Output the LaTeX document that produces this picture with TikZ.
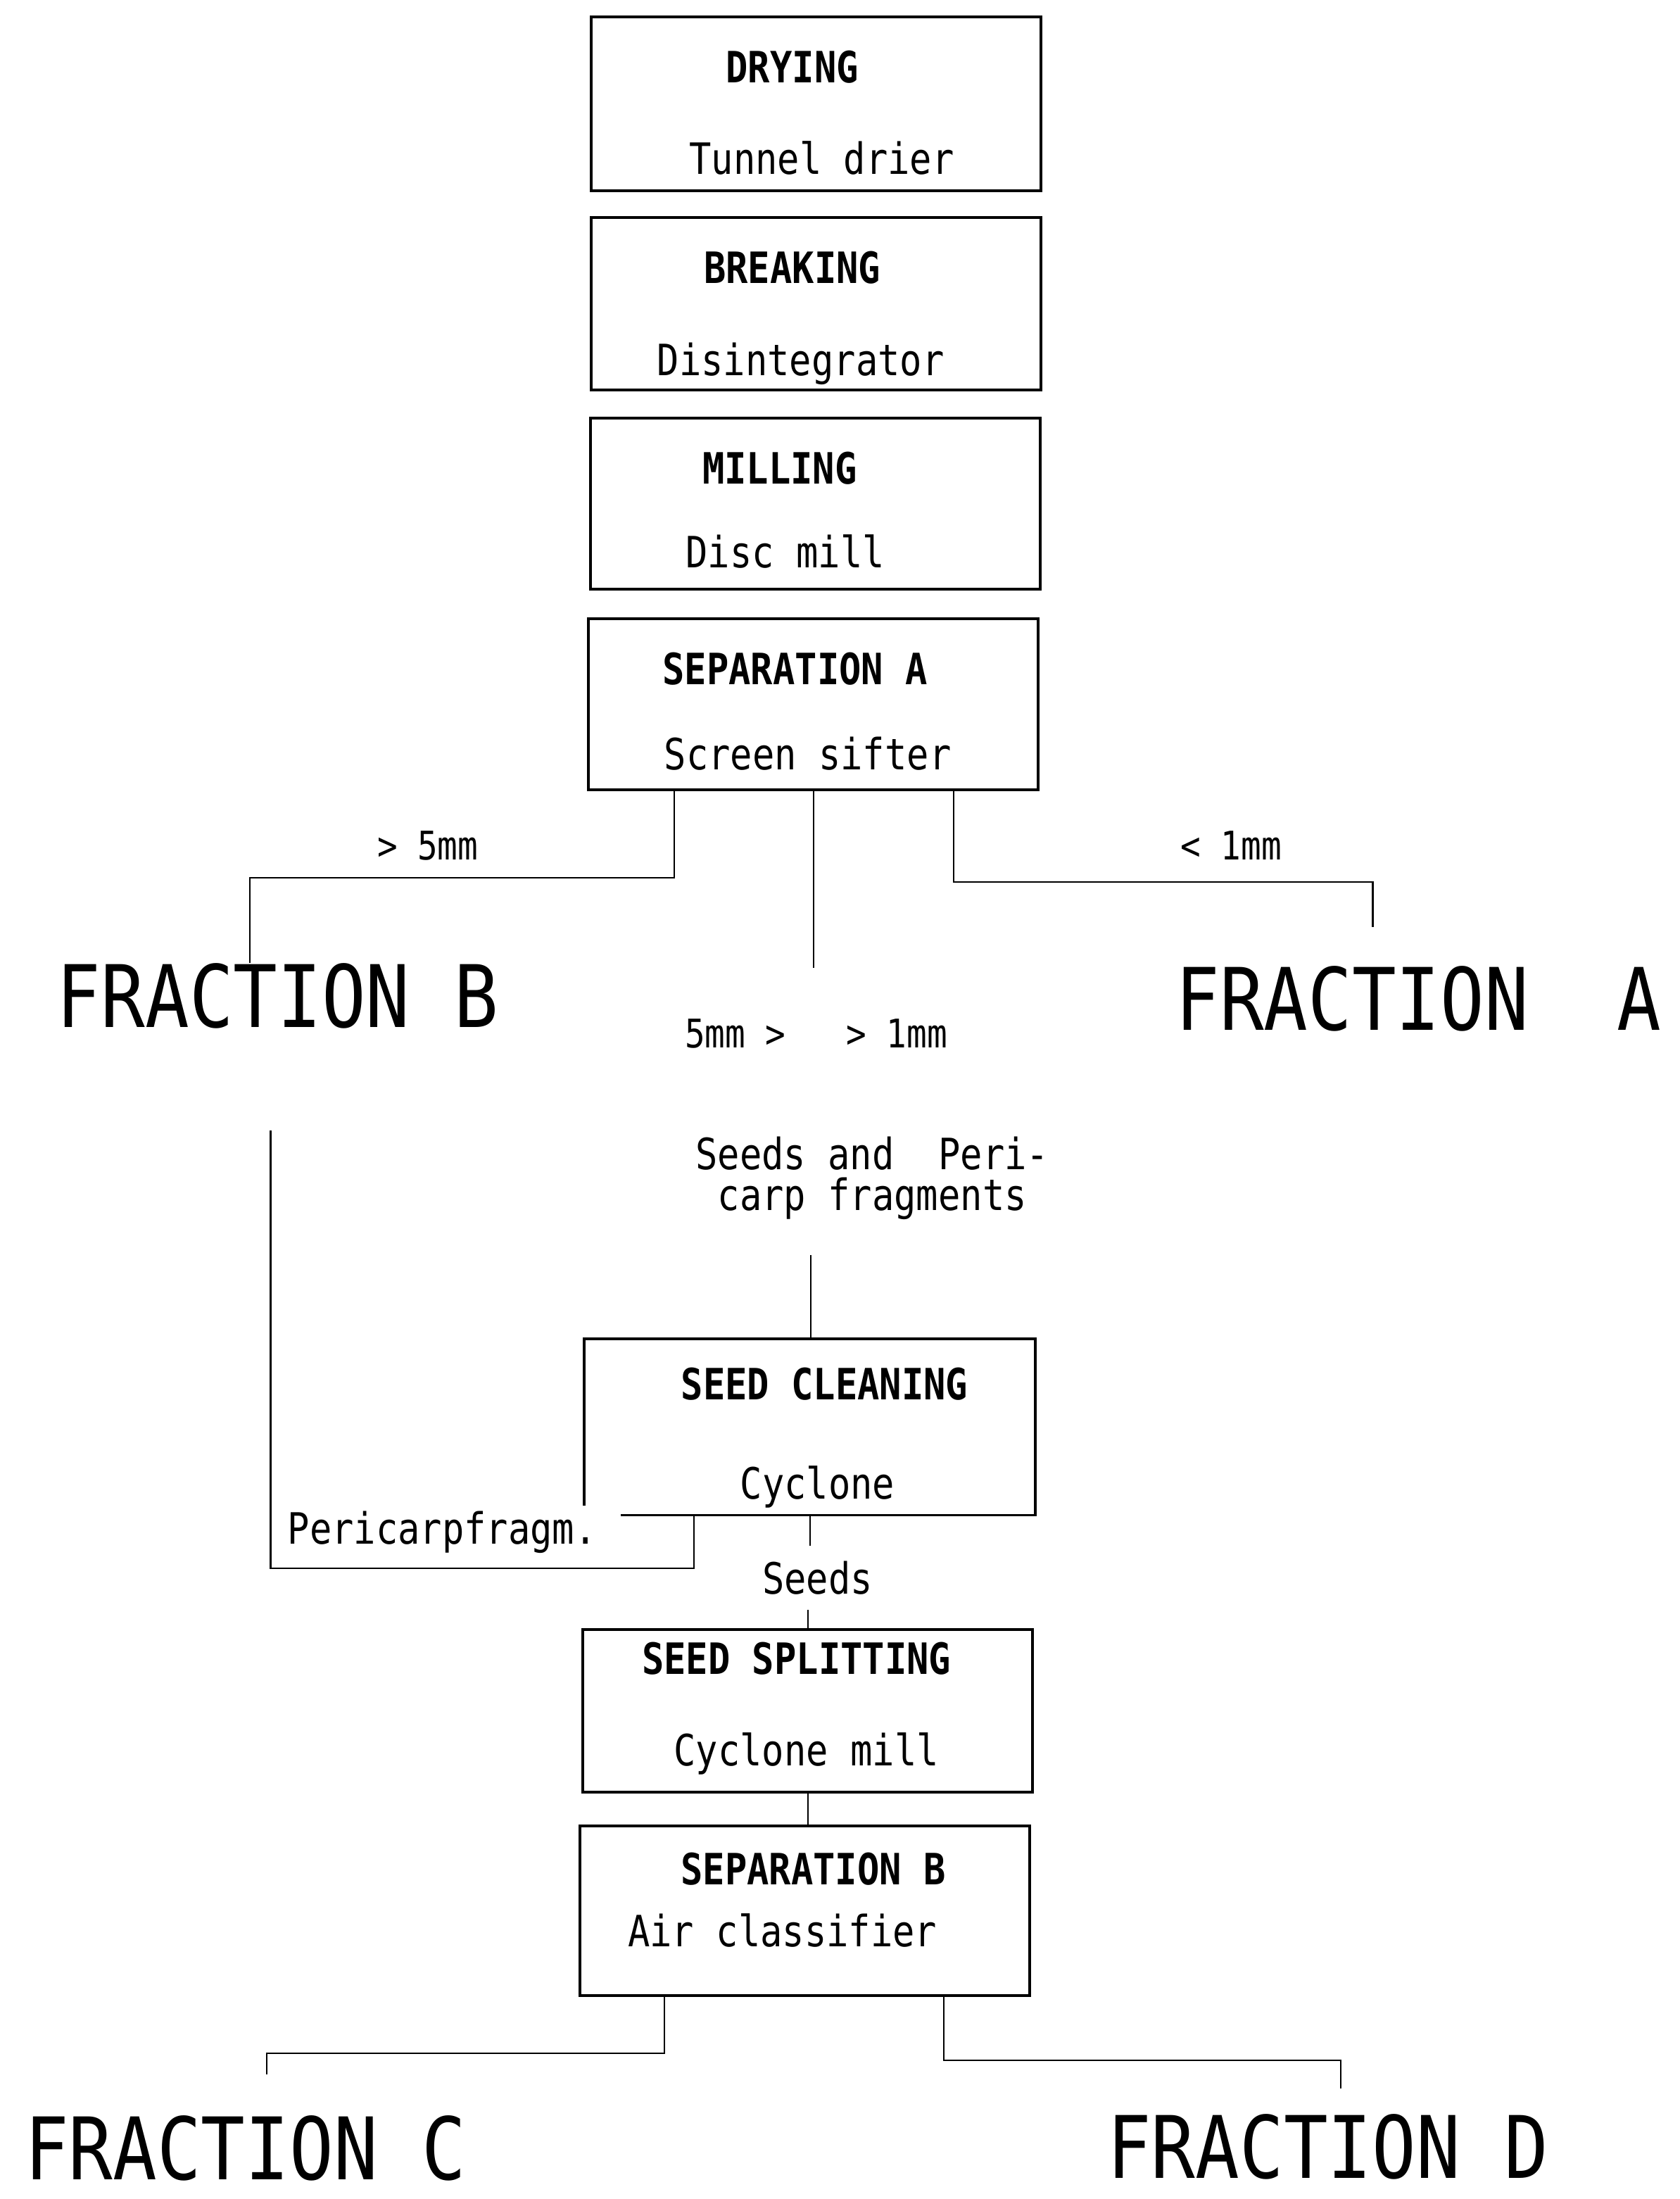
\documentclass[tikz,border=0pt]{standalone}
\usepackage{fontspec}
\newfontfamily\dotfont[FakeStretch=0.85]{DejaVu Sans Mono}
\usetikzlibrary{calc}

\begin{document}
\begin{tikzpicture}[
  x=0.2mm, y=-0.2mm,
  box/.style={draw,line width=1.1pt,minimum width=6.42cm,inner sep=0pt},
  ttl/.style={font=\dotfont\bfseries\fontsize{17.5}{20}\selectfont,inner sep=1pt,anchor=base},
  sub/.style={font=\dotfont\fontsize{17.5}{20}\selectfont,inner sep=1pt,anchor=base},
  lbl/.style={font=\dotfont\fontsize{16}{18}\selectfont,inner sep=1pt,anchor=base},
  frac/.style={font=\dotfont\fontsize{35}{40}\selectfont,inner sep=0pt,anchor=base},
  conn/.style={line width=0.6pt},
]
\useasboundingbox (0,0) rectangle (1198,1568);

\node[box,minimum height=2.48cm] (dry) at (582,74) {};
\node[ttl] (dryT) at (565,59) {DRYING};
\node[sub] (dryS) at (586,124) {Tunnel drier};

\node[box,minimum height=2.46cm] (brk) at (582,216.5) {};
\node[ttl] (brkT) at (565,202) {BREAKING};
\node[sub] (brkS) at (571,268) {Disintegrator};

\node[box,minimum height=2.44cm] (mil) at (581.5,359) {};
\node[ttl] (milT) at (556,345) {MILLING};
\node[sub] (milS) at (560,405) {Disc mill};

\node[box,minimum height=2.44cm] (sepa) at (580,502) {};
\node[ttl] (sepaT) at (567,488) {SEPARATION A};
\node[sub] (sepaS) at (576,549) {Screen sifter};

\node[lbl] (gt5) at (305,613) {> 5mm};
\node[lbl] (lt1) at (878,613) {< 1mm};
\node[frac] (fracB) at (198,732.5) {FRACTION B};
\node[frac] (fracA) at (1011.5,734.5) {FRACTION~~A};
\node[lbl] (mid) at (582,747) {5mm~>~~~>~1mm};
\node[sub,anchor=center,align=center,font=\dotfont\fontsize{17.5}{16.5}\selectfont] (feedT) at (622,840) {Seeds and~~Peri-\\carp fragments};

\node[minimum width=6.42cm,minimum height=2.5cm,inner sep=0pt] (clean) at (577.5,1017.5) {};
\node[ttl] (cleanT) at (588,998) {SEED CLEANING};
\node[sub] (cleanS) at (583,1069) {Cyclone};
\node[sub,anchor=base west] (peri) at (203,1101) {Pericarpfragm.};
\node[sub,anchor=center,inner sep=6pt] (seeds) at (583,1125) {Seeds};

\node[box,minimum height=2.32cm] (split) at (576,1220) {};
\node[ttl] (splitT) at (568,1194) {SEED SPLITTING};
\node[sub] (splitS) at (575,1259) {Cyclone mill};

\node[box,minimum height=2.42cm] (sepb) at (574,1362.5) {};
\node[ttl] (sepbT) at (580,1344) {SEPARATION B};
\node[sub] (sepbS) at (558,1388) {Air classifier};

\node[frac] (fracC) at (175,1554) {FRACTION C};
\node[frac] (fracD) at (947,1553) {FRACTION D};

\coordinate (midEnd) at (580,690);
\coordinate (feed) at (578,895);

\draw[line width=1.1pt] ($(clean.south west)+(0,-7)$) -- (clean.north west) -- (clean.north east)
  -- (clean.south east) -- ($(clean.south west)+(26,0)$);

\draw[conn] ($(sepa.south)+(-99,0)$) -- ++(0,62) -| ([xshift=-0.4cm]fracB.north);
\draw[conn] ($(sepa.south)+(100,0)$) -- ++(0,65) -| ([xshift=-0.65cm,yshift=0.55cm]fracA.north);
\draw[conn] (sepa.south) -- (midEnd);
\draw[conn] (feed) -- (feed |- clean.north);
\draw[conn] ($(clean.south)+(-82.5,0)$) -- ++(0,38) -| ([xshift=-0.1cm,yshift=-1.45cm]fracB.south);
\draw[conn] (clean.south) -- (clean.south |- seeds.north);
\draw[conn] (seeds.south -| split.north) -- (split.north);
\draw[conn] (split.south) -- (split.south |- sepb.north);
\draw[conn] ($(sepb.south)+(-100,0)$) -- ++(0,40) -| ([xshift=0.3cm,yshift=0.58cm]fracC.north);
\draw[conn] ($(sepb.south)+(99,0)$) -- ++(0,45) -| ([xshift=0.18cm,yshift=0.36cm]fracD.north);
\end{tikzpicture}
\end{document}
